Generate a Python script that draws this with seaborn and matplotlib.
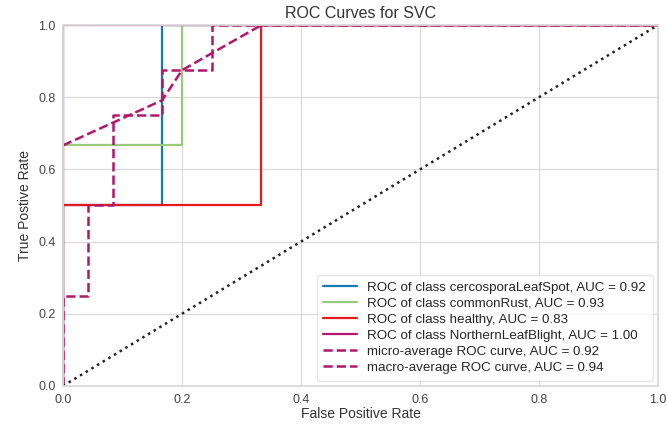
import matplotlib
matplotlib.use("Agg")
import matplotlib.pyplot as plt
import seaborn as sns
import numpy as np
import pandas as pd

# Per-class ROC curve points (false positive rate, true positive rate)
classes = ["cercosporaLeafSpot", "commonRust", "healthy", "NorthernLeafBlight"]
class_auc = [0.92, 0.93, 0.83, 1.00]

fpr_cercospora = [0.0, 0.0, 1/6, 1/6, 1.0]
tpr_cercospora = [0.0, 0.5, 0.5, 1.0, 1.0]

fpr_commonrust = [0.0, 0.0, 0.2, 0.2, 1.0]
tpr_commonrust = [0.0, 2/3, 2/3, 1.0, 1.0]

fpr_healthy = [0.0, 0.0, 1/3, 1/3, 1.0]
tpr_healthy = [0.0, 0.5, 0.5, 1.0, 1.0]

fpr_northern = [0.0, 0.0, 1.0]
tpr_northern = [0.0, 1.0, 1.0]

# Micro-average curve
fpr_micro = [0.0, 0.0, 1/24, 1/24, 1/12, 1/12, 1/6, 1/6, 0.25, 0.25, 1.0]
tpr_micro = [0.0, 0.25, 0.25, 0.5, 0.5, 0.75, 0.75, 0.875, 0.875, 1.0, 1.0]
micro_auc = 0.92

# Macro-average curve
fpr_macro = [0.0, 1/6, 0.2, 1/3, 1.0]
tpr_macro = [2/3, 0.7917, 0.875, 1.0, 1.0]
macro_auc = 0.94

colors = ["#1a7ab5", "#98c97c", "#e3191b", "#b3176b"]

sns.set_style("whitegrid", {
    "axes.edgecolor": "#d9d9d9",
    "grid.color": "#d9d9d9",
    "axes.labelcolor": "#333333",
    "xtick.color": "#444444",
    "ytick.color": "#444444",
})
plt.rcParams["font.family"] = ["Liberation Sans", "DejaVu Sans"]

fig = plt.figure(figsize=(6.67, 4.25), dpi=100)
ax = fig.add_axes([0.0945, 0.092, 0.892, 0.849])

curves = [
    (fpr_cercospora, tpr_cercospora),
    (fpr_commonrust, tpr_commonrust),
    (fpr_healthy, tpr_healthy),
    (fpr_northern, tpr_northern),
]
for (fx, ty), name, auc, col in zip(curves, classes, class_auc, colors):
    df = pd.DataFrame({"fpr": fx, "tpr": ty})
    sns.lineplot(data=df, x="fpr", y="tpr", sort=False, estimator=None,
                 color=col, linewidth=1.6, ax=ax,
                 label=f"ROC of class {name}, AUC = {auc:.2f}")

df_micro = pd.DataFrame({"fpr": fpr_micro, "tpr": tpr_micro})
sns.lineplot(data=df_micro, x="fpr", y="tpr", sort=False, estimator=None,
             color=colors[-1], linewidth=1.8, linestyle="--", ax=ax,
             label=f"micro-average ROC curve, AUC = {micro_auc:.2f}")

df_macro = pd.DataFrame({"fpr": fpr_macro, "tpr": tpr_macro})
sns.lineplot(data=df_macro, x="fpr", y="tpr", sort=False, estimator=None,
             color=colors[-1], linewidth=1.8, linestyle="--", ax=ax,
             label=f"macro-average ROC curve, AUC = {macro_auc:.2f}")

# Chance diagonal
ax.plot([0, 1], [0, 1], linestyle=":", color="#222222", linewidth=1.8)

ax.set_xlim(0, 1)
ax.set_ylim(0, 1)
ax.set_xticks(np.arange(0, 1.01, 0.2))
ax.set_yticks(np.arange(0, 1.01, 0.2))
ax.tick_params(labelsize=9, pad=2)
for sp in ax.spines.values():
    sp.set_linewidth(1.3)
ax.set_title("ROC Curves for SVC", fontsize=11.5, color="#333333", pad=5)
ax.set_xlabel("False Positive Rate", fontsize=10, labelpad=1)
ax.set_ylabel("True Postive Rate", fontsize=10, labelpad=4)

leg = ax.legend(loc="lower right", fontsize=9.6, frameon=True,
                handlelength=2.5, borderpad=0.5, labelspacing=0.28,
                borderaxespad=0.4)
leg.get_frame().set_edgecolor("#e0e0e0")
leg.get_frame().set_facecolor("white")

fig.savefig("out.png", dpi=100)
